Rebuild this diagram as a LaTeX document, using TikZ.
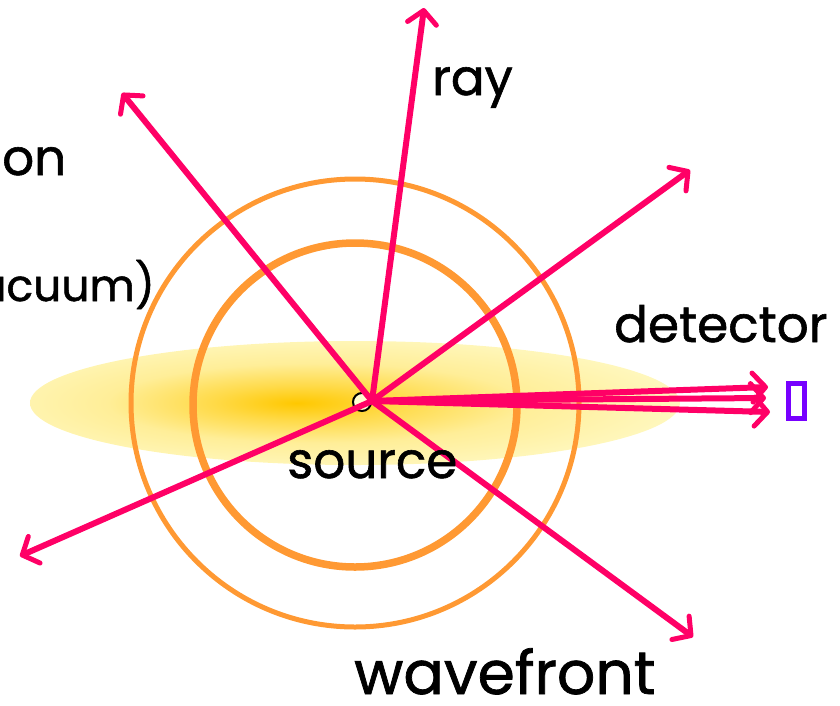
\documentclass[tikz,border=0pt]{standalone}
\usepackage{fontspec}
\setmainfont{Poppins}[FakeBold=1.2]
\usetikzlibrary{arrows.meta}
\definecolor{raycol}{HTML}{FF0066}
\definecolor{wavecol}{HTML}{FF9933}
\definecolor{detcol}{HTML}{7700FF}
\definecolor{glowa}{HTML}{FFC800}
\definecolor{glowb}{HTML}{FFDA48}
\definecolor{glowc}{HTML}{FFEE98}
\definecolor{glowd}{HTML}{FFF8C0}
\definecolor{glowe}{HTML}{FFFDD0}
\pgfdeclareradialshading{glow}{\pgfpoint{-4.5bp}{0bp}}{color(0bp)=(glowa); color(7bp)=(glowb); color(16bp)=(glowc); color(28bp)=(glowd); color(50bp)=(glowe)}
\tikzset{
  ray/.style={draw=raycol, line width=6pt, line cap=round,
    -{Straight Barb[length=13pt,width=29pt,line width=5pt,round]}},
  wave/.style={draw=wavecol},
  label/.style={font=\fontsize{50}{58}\selectfont, inner sep=0pt},
}
\begin{document}
\begin{tikzpicture}[x=1pt,y=-1pt]
\useasboundingbox (0,0) rectangle (840,705);
% glow
\shade[shading=glow] (355,403) ellipse [x radius=325, y radius=62];
% wavefronts
\draw[wave, line width=5pt] (355,403) circle [radius=224];
\draw[wave, line width=7.5pt] (355,405) circle [radius=162];
% source
\node[circle, draw=black, fill=glowe, line width=2pt, minimum size=18pt, inner sep=0pt] (src) at (362,402) {};
\coordinate (o) at (372,401);
% ray ends
\coordinate (eu) at (424,8);
\coordinate (eul) at (122,93);
\coordinate (eur) at (690,170);
\coordinate (edl) at (20,556);
\coordinate (edr) at (693,637);
\coordinate (ed1) at (768,387);
\coordinate (ed2) at (766,398);
\coordinate (ed3) at (770,412);
\draw[ray] (o) -- (eu);
\draw[ray] (o) -- (eul);
\draw[ray] (o) -- (eur);
\draw[ray] (o) -- (edl);
\draw[ray] (o) -- (edr);
\draw[ray] (o) -- (ed1);
\draw[ray] (o) -- (ed2);
\draw[ray] (o) -- (ed3);
% detector
\node[draw=detcol, line width=5.5pt, minimum width=16pt, minimum height=35pt, inner sep=0pt] (det) at (796.5,401) {};
% labels
\node[label, anchor=base west] (tray) at (432,95) {ray};
\node[label, anchor=base west] (ton) at (2,175) {on};
\node[label, font=\fontsize{44}{52}\selectfont, anchor=base east] (tvac) at (155,301) {acuum)};
\node[label, anchor=base west] (tdet) at (614,342) {detector};
\node[label, anchor=base west] (tsrc) at (287,478) {source};
\node[label, font=\fontsize{60}{68}\selectfont, anchor=base west] (twf) at (354,694) {wavefront};
\end{tikzpicture}
\end{document}
